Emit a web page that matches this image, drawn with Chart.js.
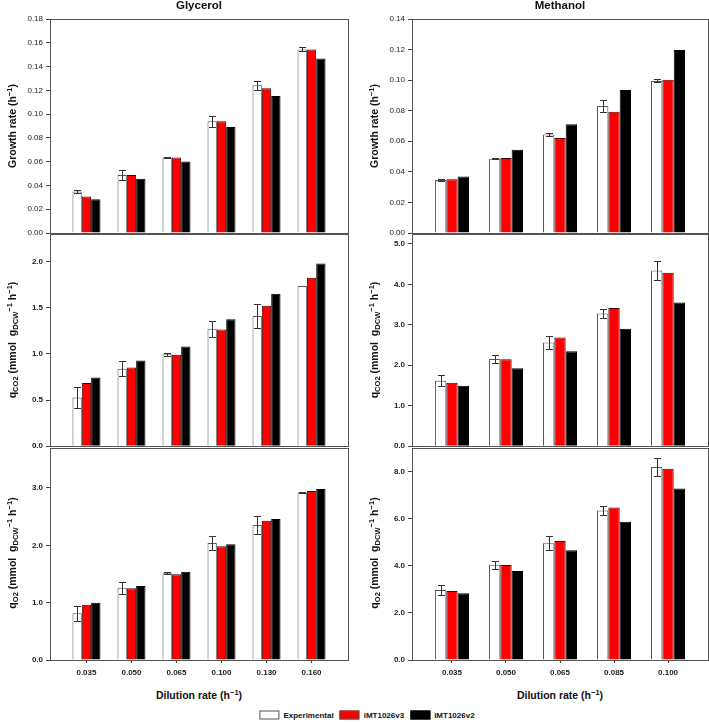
<!DOCTYPE html>
<html>
<head>
<meta charset="utf-8">
<script src="https://cdn.jsdelivr.net/npm/chart.js@4.4.1/dist/chart.umd.min.js"></script>
<style>
  body { margin: 0; background: #fff; }
  #page { position: relative; width: 709px; height: 724px; font-family: 'Liberation Sans', Arial, sans-serif; color: #111; }
  canvas { position: absolute; }
  .t { position: absolute; white-space: nowrap; font-weight: bold; line-height: 1; transform: translate(-50%, -50%); }
  .rot { transform: translate(-50%, -50%) rotate(-90deg); }
  .t sub, .t sup { font-size: 0.72em; line-height: 0; }
  .t sub { vertical-align: -0.28em; }
  .t sup { vertical-align: 0.5em; }
  .col { font-size: 11.5px; }
  .ax { font-size: 10.5px; }
  #legend { position: absolute; left: 367px; top: 715px; transform: translate(-50%, -50%); display: flex; align-items: center; font-size: 8px; font-weight: bold; white-space: nowrap; }
  #legend .box { width: 18px; height: 7px; border: 1px solid #555; margin-right: 4px; }
  #legend .lbl { margin-right: 6px; }
</style>
</head>
<body>
<div id="page">
  <canvas id="g1" width="352" height="242" style="left:0;top:0"></canvas>
  <canvas id="m1" width="353" height="242" style="left:356px;top:0"></canvas>
  <canvas id="g2" width="352" height="228" style="left:0;top:226px"></canvas>
  <canvas id="m2" width="353" height="228" style="left:356px;top:226px"></canvas>
  <canvas id="g3" width="352" height="245" style="left:0;top:440px"></canvas>
  <canvas id="m3" width="353" height="245" style="left:356px;top:440px"></canvas>

  <div class="t col" style="left:199px;top:6px">Glycerol</div>
  <div class="t col" style="left:560px;top:6px">Methanol</div>

  <div class="t ax rot" style="left:11.5px;top:126px">Growth rate (h<sup>−1</sup>)</div>
  <div class="t ax rot" style="left:11.5px;top:340px">q<sub>CO2</sub> (mmol&nbsp; g<sub>DCW</sub><sup>−1</sup> h<sup>−1</sup>)</div>
  <div class="t ax rot" style="left:11.5px;top:553px">q<sub>O2</sub> (mmol&nbsp; g<sub>DCW</sub><sup>−1</sup> h<sup>−1</sup>)</div>
  <div class="t ax rot" style="left:374px;top:126px">Growth rate (h<sup>−1</sup>)</div>
  <div class="t ax rot" style="left:374px;top:340px">q<sub>CO2</sub> (mmol&nbsp; g<sub>DCW</sub><sup>−1</sup> h<sup>−1</sup>)</div>
  <div class="t ax rot" style="left:374px;top:553px">q<sub>O2</sub> (mmol&nbsp; g<sub>DCW</sub><sup>−1</sup> h<sup>−1</sup>)</div>

  <div class="t ax" style="left:199px;top:695px">Dilution rate (h<sup>−1</sup>)</div>
  <div class="t ax" style="left:560px;top:695px">Dilution rate (h<sup>−1</sup>)</div>

  <div id="legend">
    <div class="box" style="background:#fff"></div><span class="lbl">Experimental</span>
    <div class="box" style="background:#f00"></div><span class="lbl">iMT1026v3</span>
    <div class="box" style="background:#000;border-color:#000"></div><span>iMT1026v2</span>
  </div>
</div>

<script>
// dilution rates (h-1)
const glyCats = ['0.035', '0.050', '0.065', '0.100', '0.130', '0.160'];
const metCats = ['0.035', '0.050', '0.065', '0.085', '0.100'];

// glycerol - growth rate
const glyMuExp = [0.0349, 0.0487, 0.0636, 0.0939, 0.1243, 0.1544];
const glyMuErr = [0.0010, 0.0042, 0.0003, 0.0044, 0.0039, 0.0017];
const glyMuV3  = [0.0307, 0.0487, 0.0636, 0.0939, 0.1218, 0.1544];
const glyMuV2  = [0.0284, 0.0456, 0.0602, 0.0891, 0.1153, 0.1468];

// methanol - growth rate
const metMuExp = [0.0346, 0.0486, 0.0645, 0.0831, 0.0995];
const metMuErr = [0.0006, 0.0002, 0.0012, 0.0041, 0.0010];
const metMuV3  = [0.0352, 0.0490, 0.0621, 0.0794, 0.1002];
const metMuV2  = [0.0370, 0.0545, 0.0711, 0.0936, 0.1197];

// glycerol - qCO2
const glyCo2Exp = [0.527, 0.839, 0.996, 1.272, 1.409, 1.735];
const glyCo2Err = [0.110, 0.082, 0.014, 0.088, 0.133, 0];
const glyCo2V3  = [0.685, 0.853, 0.989, 1.265, 1.520, 1.824];
const glyCo2V2  = [0.745, 0.928, 1.079, 1.376, 1.652, 1.978];

// methanol - qCO2
const metCo2Exp = [1.615, 2.156, 2.566, 3.279, 4.344];
const metCo2Err = [0.135, 0.100, 0.170, 0.120, 0.246];
const metCo2V3  = [1.566, 2.148, 2.689, 3.418, 4.287];
const metCo2V2  = [1.492, 1.926, 2.344, 2.902, 3.549];

// glycerol - qO2
const glyO2Exp = [0.815, 1.260, 1.514, 2.040, 2.353, 2.919];
const glyO2Err = [0.133, 0.107, 0.020, 0.120, 0.156, 0.010];
const glyO2V3  = [0.965, 1.249, 1.497, 1.983, 2.428, 2.948];
const glyO2V2  = [1.000, 1.289, 1.538, 2.017, 2.457, 2.983];

// methanol - qO2
const metO2Exp = [2.973, 4.040, 4.950, 6.340, 8.190];
const metO2Err = [0.220, 0.160, 0.290, 0.190, 0.370];
const metO2V3  = [2.930, 4.025, 5.050, 6.470, 8.110];
const metO2V2  = [2.830, 3.770, 4.660, 5.860, 7.270];

const FONT = "'Liberation Sans', Arial, sans-serif";

// box around each panel
const frame = {
  id: 'frame',
  afterDatasetsDraw(chart) {
    const { ctx, chartArea: a } = chart;
    ctx.save();
    ctx.strokeStyle = '#555';
    ctx.lineWidth = 1;
    ctx.strokeRect(Math.round(a.left) + 0.5, Math.round(a.top) + 0.5,
      Math.round(a.right - a.left), Math.round(a.bottom - a.top));
    ctx.restore();
  }
};

// +/- error bars on the experimental series
const errorBars = {
  id: 'errorBars',
  afterDatasetsDraw(chart) {
    const ds = chart.data.datasets[0];
    const meta = chart.getDatasetMeta(0);
    const y = chart.scales.y;
    const ctx = chart.ctx;
    ctx.save();
    ctx.strokeStyle = '#333';
    ctx.lineWidth = 1;
    meta.data.forEach((bar, i) => {
      const e = ds.errors[i];
      if (!e) return;
      const v = ds.data[i].y;
      const x = Math.round(bar.x) + 0.5;
      const top = Math.round(y.getPixelForValue(v + e)) + 0.5;
      const bot = Math.round(y.getPixelForValue(v - e)) + 0.5;
      ctx.beginPath();
      ctx.moveTo(x, top); ctx.lineTo(x, bot);
      ctx.moveTo(x - 3.5, top); ctx.lineTo(x + 3.5, top);
      ctx.moveTo(x - 3.5, bot); ctx.lineTo(x + 3.5, bot);
      ctx.stroke();
    });
    ctx.restore();
  }
};

function pts(arr) {
  return arr.map((v, i) => ({ x: i, y: v }));
}

function panel(id, cats, exp, err, v3, v2, o) {
  const left = cats.length === 6;
  const xScale = {
    type: 'linear',
    min: left ? -0.81 : -0.74,
    max: left ? 5.81 : 4.74,
    offset: false,
    display: !!o.bottom,
    afterBuildTicks: s => { s.ticks = cats.map((c, i) => ({ value: i })); },
    border: { display: false },
    grid: { offset: false, drawOnChartArea: false, tickLength: 3, color: '#444' },
    ticks: {
      autoSkip: false, maxRotation: 0, padding: 5, color: '#222',
      font: { family: FONT, size: 8, weight: 'bold' },
      callback: v => cats[v]
    }
  };
  if (o.bottom) xScale.afterFit = s => { s.height = 25; };

  return new Chart(document.getElementById(id), {
    type: 'bar',
    data: {
      datasets: [
        { label: 'Experimental', data: pts(exp), errors: err, backgroundColor: '#fff', borderColor: '#555', borderWidth: 1 },
        { label: 'iMT1026v3', data: pts(v3), backgroundColor: '#ff0000', borderColor: '#4a0000', borderWidth: 1 },
        { label: 'iMT1026v2', data: pts(v2), backgroundColor: '#000', borderColor: '#000', borderWidth: 1 }
      ]
    },
    options: {
      responsive: false,
      animation: false,
      devicePixelRatio: 1,
      events: [],
      layout: { padding: { left: 0, right: left ? 4 : 1, top: o.padTop, bottom: o.padBottom } },
      datasets: { bar: { categoryPercentage: left ? 0.622 : 0.63, barPercentage: 1 } },
      plugins: { legend: { display: false }, tooltip: { enabled: false } },
      scales: {
        x: xScale,
        y: {
          min: 0,
          max: o.max,
          afterFit: s => { s.width = left ? 50 : 56; },
          border: { display: false },
          grid: { drawOnChartArea: false, tickLength: 4, color: '#444' },
          ticks: {
            stepSize: o.step,
            includeBounds: false,
            padding: 3,
            color: '#222',
            font: { family: FONT, size: 8, weight: o.bold ? 'bold' : 'normal' },
            callback: v => v.toFixed(o.dec)
          }
        }
      }
    },
    plugins: [errorBars, frame]
  });
}

const row1 = { padTop: 19, padBottom: 9, dec: 2 };
const row2 = { padTop: 7, padBottom: 7, dec: 1, bold: true };
const row3 = { padTop: 7, padBottom: 0, dec: 1, bold: true, bottom: true };

panel('g1', glyCats, glyMuExp, glyMuErr, glyMuV3, glyMuV2, { ...row1, max: 0.18, step: 0.02 });
panel('m1', metCats, metMuExp, metMuErr, metMuV3, metMuV2, { ...row1, max: 0.14, step: 0.02 });
panel('g2', glyCats, glyCo2Exp, glyCo2Err, glyCo2V3, glyCo2V2, { ...row2, max: 2.3, step: 0.5 });
panel('m2', metCats, metCo2Exp, metCo2Err, metCo2V3, metCo2V2, { ...row2, max: 5.25, step: 1 });
panel('g3', glyCats, glyO2Exp, glyO2Err, glyO2V3, glyO2V2, { ...row3, max: 3.7, step: 1 });
panel('m3', metCats, metO2Exp, metO2Err, metO2V3, metO2V2, { ...row3, max: 9, step: 2 });
</script>
</body>
</html>
